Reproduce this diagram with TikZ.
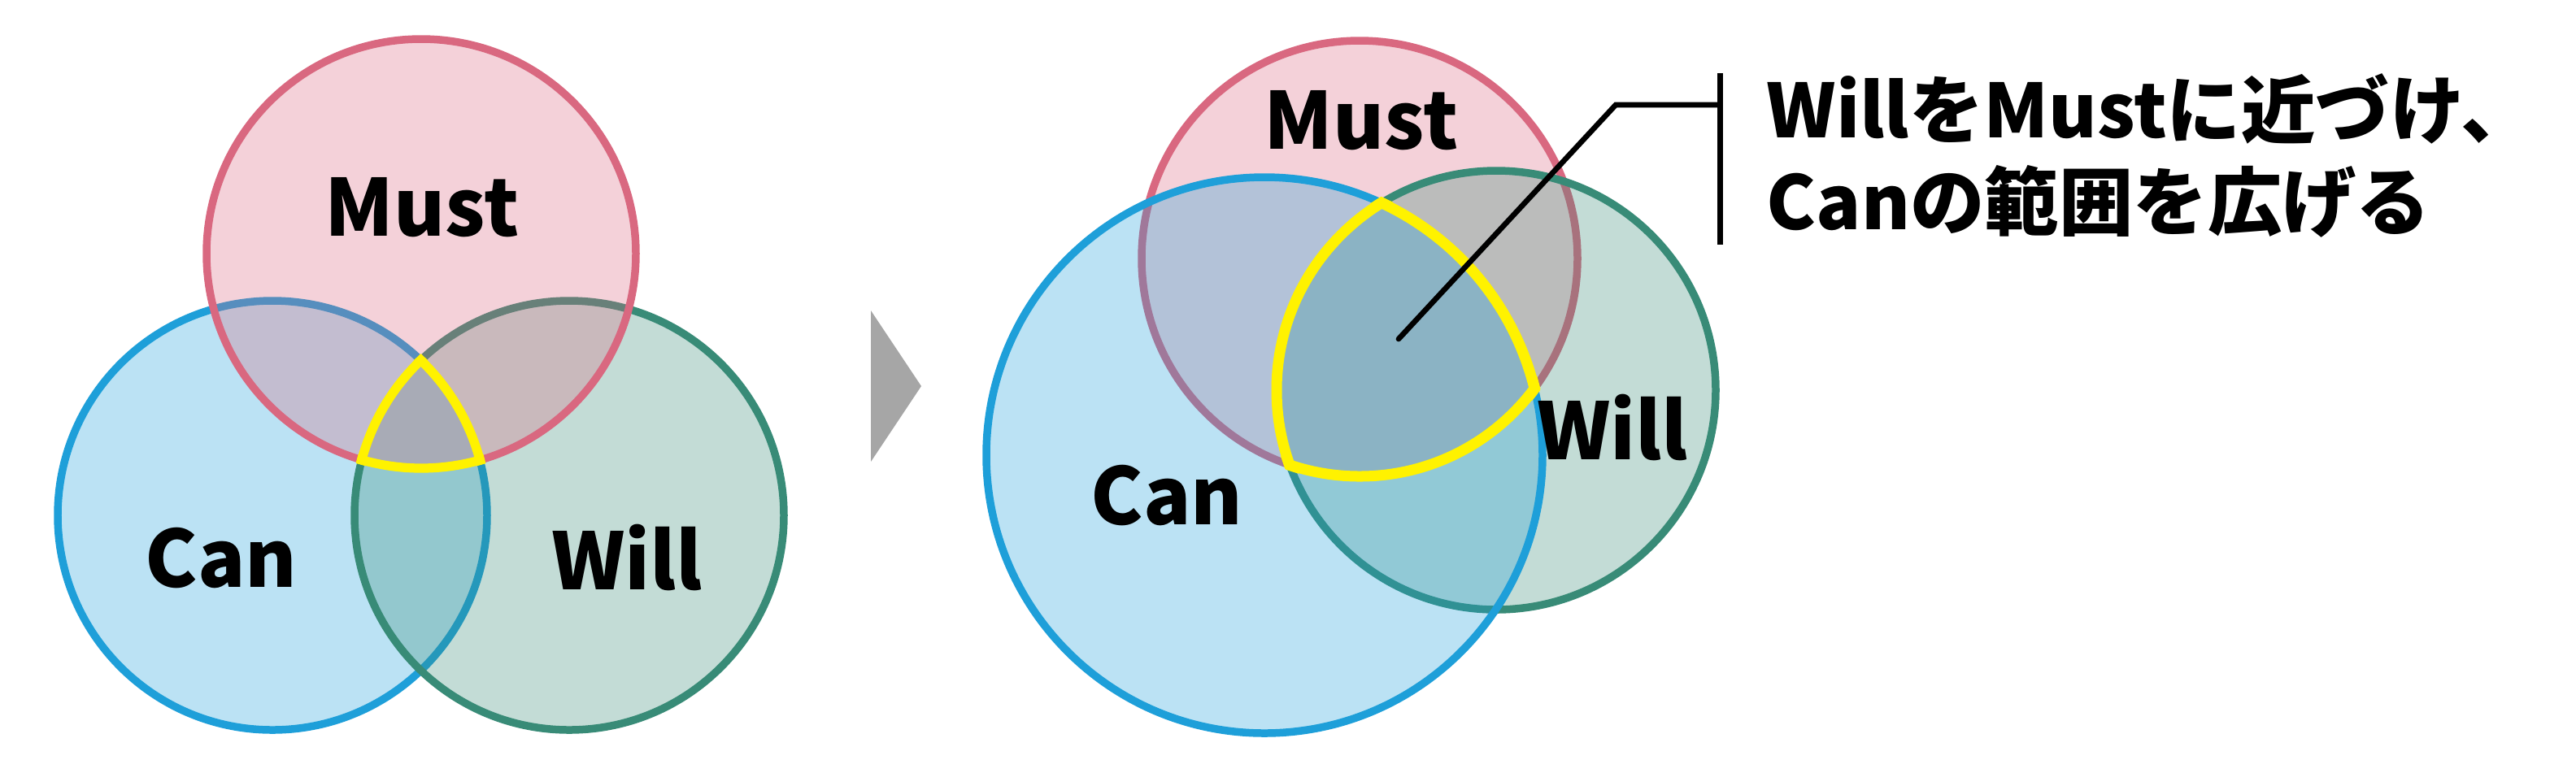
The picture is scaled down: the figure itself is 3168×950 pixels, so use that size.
\documentclass[tikz,border=0pt]{standalone}
\usepackage{fontspec}
\setmainfont{Noto Sans CJK JP}
\definecolor{mustred}{RGB}{217,104,128}
\definecolor{canblue}{RGB}{30,159,217}
\definecolor{willgreen}{RGB}{56,139,119}
\definecolor{arrowgray}{RGB}{166,166,166}
\begin{document}
\begin{tikzpicture}[x=0.01cm,y=-0.01cm,
  venn/.style={line width=2.7pt,fill opacity=.3,draw opacity=1},
  hilite/.style={draw=yellow,line width=3.2pt},
  lab/.style={font=\bfseries\fontsize{27.5}{30}\selectfont}]
\useasboundingbox (0,0) rectangle (3168,950);
\coordinate (canL) at (335,634);
\coordinate (willL) at (700,634);
\coordinate (mustL) at (518,312);
\draw[venn,draw=canblue,fill=canblue] (canL) circle [radius=264];
\draw[venn,draw=willgreen,fill=willgreen] (willL) circle [radius=264];
\draw[venn,draw=mustred,fill=mustred] (mustL) circle [radius=264];
\begin{scope}
\clip (canL) circle [radius=270]; \clip (willL) circle [radius=270];
\draw[hilite] (mustL) circle [radius=264];
\end{scope}
\begin{scope}
\clip (mustL) circle [radius=270]; \clip (willL) circle [radius=270];
\draw[hilite] (canL) circle [radius=264];
\end{scope}
\begin{scope}
\clip (mustL) circle [radius=270]; \clip (canL) circle [radius=270];
\draw[hilite] (willL) circle [radius=264];
\end{scope}
\draw (519,255) node (mustl) [lab] {Must};
\draw (272,686) node (canl) [lab] {Can};
\draw (771,686) node (willl) [lab] {Will};
\fill[arrowgray] (1071,382) -- (1133,475) -- (1071,568) -- cycle;
\coordinate (mustR) at (1672,318);
\coordinate (willR) at (1840,480);
\coordinate (canR) at (1555,560);
\draw[venn,draw=mustred,fill=mustred] (mustR) circle [radius=268];
\draw[venn,draw=willgreen,fill=willgreen] (willR) circle [radius=270];
\draw[venn,draw=canblue,fill=canblue] (canR) circle [radius=342];
\begin{scope}[hilite/.append style={line width=3.7pt}]
\begin{scope}
\clip (willR) circle [radius=277]; \clip (canR) circle [radius=349];
\draw[hilite] (mustR) circle [radius=268];
\end{scope}
\begin{scope}
\clip (mustR) circle [radius=275]; \clip (canR) circle [radius=349];
\draw[hilite] (willR) circle [radius=270];
\end{scope}
\begin{scope}
\clip (mustR) circle [radius=275]; \clip (willR) circle [radius=277];
\draw[hilite] (canR) circle [radius=342];
\end{scope}
\end{scope}
\draw (1674,148) node (mustr) [lab] {Must};
\draw (1435,610) node (canr) [lab] {Can};
\draw (1983,526) node (willr) [lab] {Will};
\coordinate (tip) at (1720,417);
\coordinate (bend) at (1987,129);
\coordinate (barmid) at (2115,129);
\coordinate (bartop) at (2115,90);
\coordinate (barbot) at (2115,301);
\draw[line width=1.9pt,line cap=round] (tip) -- (bend) -- (barmid);
\draw[line width=2pt] (bartop) -- (barbot);
\draw (2172,90) node (note) [anchor=north west,align=left,inner sep=0pt,
  font=\bfseries\fontsize{26}{32}\selectfont] {WillをMustに近づけ、\\Canの範囲を広げる};
\end{tikzpicture}
\end{document}
